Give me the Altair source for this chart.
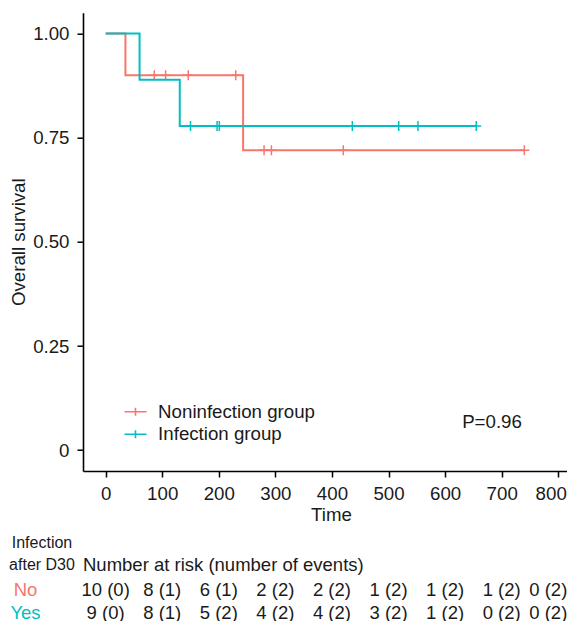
import altair as alt
import pandas as pd

groups = ["Noninfection group", "Infection group"]
colors = ["#F8766D", "#00BFC4"]

# Kaplan-Meier steps
non_step_t = [0, 35, 243, 740]
non_step_s = [1.0, 0.9, 0.72, 0.72]
inf_step_t = [0, 60, 131, 655]
inf_step_s = [1.0, 0.889, 0.778, 0.778]

# censor marks
non_cens_t = [86, 106, 146, 230, 280, 293, 420, 740]
non_cens_s = [0.9, 0.9, 0.9, 0.9, 0.72, 0.72, 0.72, 0.72]
inf_cens_t = [150, 197, 201, 436, 518, 552, 655]
inf_cens_s = [0.778, 0.778, 0.778, 0.778, 0.778, 0.778, 0.778]

# risk table
risk_times = [0, 100, 200, 300, 400, 500, 600, 700, 800]
risk_no = ["10 (0)", "8 (1)", "6 (1)", "2 (2)", "2 (2)", "1 (2)", "1 (2)", "1 (2)", "0 (2)"]
risk_yes = ["\u00a09 (0)", "8 (1)", "5 (2)", "4 (2)", "4 (2)", "3 (2)", "1 (2)", "0 (2)", "0 (2)"]

x_ticks = [0, 100, 200, 300, 400, 500, 600, 700, 800]
y_ticks = [0, 0.25, 0.5, 0.75, 1.0]

FONT = "Liberation Sans"
TXT = "#1a1a1a"
FS = 18.7
FT = 18.5

steps = pd.DataFrame(
    {"group": [groups[0]] * len(non_step_t) + [groups[1]] * len(inf_step_t),
     "t": non_step_t + inf_step_t,
     "s": non_step_s + inf_step_s,
     "o": list(range(len(non_step_t))) + list(range(len(inf_step_t)))}
)
cens = pd.DataFrame(
    {"group": [groups[0]] * len(non_cens_t) + [groups[1]] * len(inf_cens_t),
     "t": non_cens_t + inf_cens_t,
     "s": non_cens_s + inf_cens_s}
)
risk_df_no = pd.DataFrame({"t": risk_times, "label": risk_no})
risk_df_yes = pd.DataFrame({"t": risk_times, "label": risk_yes})

xscale = alt.Scale(domain=[-40, 815.4], nice=False, zero=False)
yscale = alt.Scale(domain=[-0.05, 1.05], nice=False, zero=False)

legend = alt.Legend(
    title=None, orient="none", legendX=40.5, legendY=387,
    symbolType="M-1,0H1M0,-0.36V0.36", symbolSize=484, symbolStrokeWidth=1.6,
    labelFontSize=FS, labelFont=FONT, labelColor=TXT, labelOffset=10.6,
    rowPadding=0.6, padding=0,
)
color = alt.Color("group:N", scale=alt.Scale(domain=groups, range=colors), legend=legend)

xaxis = alt.Axis(
    values=x_ticks, title="Time", grid=False, tickSize=6, tickWidth=1.5, tickColor="black",
    domainColor="black", domainWidth=1.6, labelFontSize=FS, labelFont=FONT, labelColor=TXT,
    labelPadding=7, labelFlush=10, labelFlushOffset=8,
    titleFontSize=FS, titleFont=FONT, titleColor=TXT, titleFontWeight="normal",
    titleX=248, titleY=43, titleBaseline="middle", titleAlign="center",
)
yaxis = alt.Axis(
    values=y_ticks, title="Overall survival", grid=False, tickSize=6, tickWidth=1.5,
    tickColor="black", domainColor="black", domainWidth=1.6, labelFontSize=FS, labelFont=FONT,
    labelColor=TXT, labelPadding=8,
    labelExpr="datum.value == 0 ? '0' : format(datum.value, '.2f')",
    titleFontSize=FS, titleFont=FONT, titleColor=TXT, titleFontWeight="normal",
    titleX=-65, titleY=229, titleAngle=270, titleAlign="center", titleBaseline="middle",
)

lines = alt.Chart(steps).mark_line(interpolate="step-after", strokeWidth=2).encode(
    x=alt.X("t:Q", scale=xscale, axis=xaxis),
    y=alt.Y("s:Q", scale=yscale, axis=yaxis),
    color=color,
    order="o:Q",
)
points = alt.Chart(cens).mark_point(
    shape="M-1,0H1M0,-1V1", size=100, filled=False, strokeWidth=1.5, opacity=1
).encode(
    x=alt.X("t:Q", scale=xscale),
    y=alt.Y("s:Q", scale=yscale),
    color=color,
)

def txt(text, x, y, align="center", col=TXT, fs=FT):
    return alt.Chart(pd.DataFrame({"a": [0]})).mark_text(
        text=text, align=align, baseline="middle", font=FONT, fontSize=fs, color=col
    ).encode(x=alt.value(x), y=alt.value(y))

pval = txt("P=0.96", 409, 409.3, fs=FS)
h1 = txt("Infection", -41, 530.6, fs=16)
h2 = txt("after D30", -41, 552.3, fs=16)
h3 = txt("Number at risk (number of events)", 0, 552.3, align="left")
no_lab = txt("No", -57.5, 577.3, col="#F8766D")
yes_lab = txt("Yes", -57.5, 599.8, col="#00BFC4")

def risk_row(df, y):
    inner = alt.Chart(df).transform_filter("datum.t < 800").mark_text(
        baseline="middle", align="center", font=FONT, fontSize=FT, color=TXT
    ).encode(x=alt.X("t:Q", scale=xscale), y=alt.value(y), text="label:N")
    last = alt.Chart(df).transform_filter("datum.t >= 800").mark_text(
        baseline="middle", align="center", font=FONT, fontSize=FT, color=TXT, dx=-10
    ).encode(x=alt.X("t:Q", scale=xscale), y=alt.value(y), text="label:N")
    return inner + last

row_no = risk_row(risk_df_no, 577.3)
row_yes = risk_row(risk_df_yes, 599.8)

chart = alt.layer(
    points, lines, pval, h1, h2, h3, no_lab, yes_lab, row_no, row_yes
).properties(
    width=484, height=458.3,
    autosize=alt.AutoSizeParams(type="none"),
    padding={"left": 75, "top": 4.7, "right": 0, "bottom": 150},
    background="white",
).configure_view(stroke=None)

chart.save("out.html", embed_options={"renderer": "svg", "actions": False})
